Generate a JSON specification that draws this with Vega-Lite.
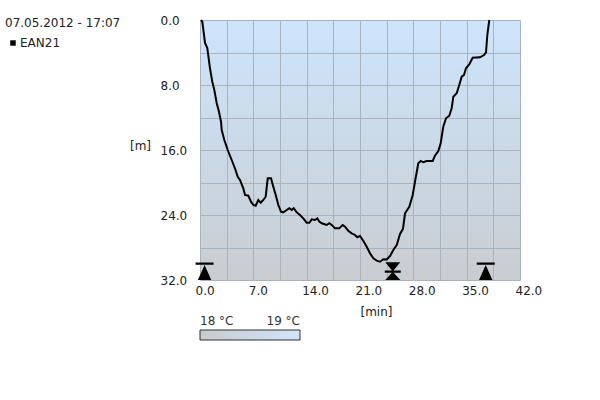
{
  "$schema": "https://vega.github.io/schema/vega-lite/v6.json",
  "autosize": "none",
  "width": 320,
  "height": 260,
  "padding": {"left": 200, "top": 20, "right": 80, "bottom": 120},
  "background": "white",
  "config": {
    "font": "DejaVu Sans",
    "view": {
      "stroke": null,
      "fill": {"gradient": "linear", "x1": 0, "y1": 0, "x2": 0, "y2": 1,
        "stops": [{"offset": 0, "color": "#cde5fc"}, {"offset": 1, "color": "#c9cdd1"}]}
    },
    "axis": {
      "domain": false, "ticks": false, "tickSize": 0, "tickCount": 30,
      "gridColor": "#a9b3bd", "gridWidth": 1, "gridOpacity": 1,
      "labelFontSize": 12, "labelColor": "#222", "titleFontSize": 12,
      "titleFontWeight": "normal", "titleColor": "#222",
      "labelOverlap": false, "labelFlush": false, "labelBound": false
    }
  },
  "datasets": {
    "profile": [
      {"min": 0.13, "depth": 0.0}, {"min": 0.30, "depth": 0.21}, {"min": 0.66, "depth": 2.83},
      {"min": 0.96, "depth": 3.45}, {"min": 1.31, "depth": 5.94}, {"min": 1.61, "depth": 7.59},
      {"min": 1.88, "depth": 8.62}, {"min": 2.19, "depth": 10.22}, {"min": 2.49, "depth": 11.29},
      {"min": 2.76, "depth": 12.52}, {"min": 2.85, "depth": 13.54}, {"min": 3.19, "depth": 14.77},
      {"min": 3.64, "depth": 16.0}, {"min": 4.16, "depth": 17.23}, {"min": 4.59, "depth": 18.25},
      {"min": 4.95, "depth": 19.29}, {"min": 5.25, "depth": 19.69}, {"min": 5.68, "depth": 20.71},
      {"min": 5.91, "depth": 21.54}, {"min": 6.34, "depth": 21.62}, {"min": 6.69, "depth": 22.36},
      {"min": 7.0, "depth": 22.77}, {"min": 7.31, "depth": 22.86}, {"min": 7.65, "depth": 22.15},
      {"min": 7.97, "depth": 22.49}, {"min": 8.31, "depth": 22.15}, {"min": 8.62, "depth": 21.75},
      {"min": 8.89, "depth": 19.48}, {"min": 9.32, "depth": 19.48}, {"min": 9.62, "depth": 20.52},
      {"min": 9.94, "depth": 21.54}, {"min": 10.28, "depth": 22.77}, {"min": 10.63, "depth": 23.59},
      {"min": 10.93, "depth": 23.67}, {"min": 11.38, "depth": 23.38}, {"min": 11.72, "depth": 23.17},
      {"min": 12.04, "depth": 23.38}, {"min": 12.30, "depth": 23.17}, {"min": 12.69, "depth": 23.67},
      {"min": 13.12, "depth": 24.0}, {"min": 13.56, "depth": 24.41}, {"min": 14.0, "depth": 24.95},
      {"min": 14.35, "depth": 24.95}, {"min": 14.66, "depth": 24.53}, {"min": 15.09, "depth": 24.62},
      {"min": 15.40, "depth": 24.41}, {"min": 15.66, "depth": 24.82}, {"min": 15.97, "depth": 25.02},
      {"min": 16.27, "depth": 25.11}, {"min": 16.63, "depth": 25.23}, {"min": 16.97, "depth": 25.02},
      {"min": 17.29, "depth": 25.23}, {"min": 17.72, "depth": 25.64}, {"min": 18.28, "depth": 25.64},
      {"min": 18.73, "depth": 25.23}, {"min": 19.03, "depth": 25.44}, {"min": 19.46, "depth": 25.93},
      {"min": 19.91, "depth": 26.25}, {"min": 20.34, "depth": 26.46}, {"min": 20.65, "depth": 26.74},
      {"min": 21.0, "depth": 26.58}, {"min": 21.43, "depth": 27.16}, {"min": 21.88, "depth": 27.9},
      {"min": 22.31, "depth": 28.71}, {"min": 22.75, "depth": 29.33}, {"min": 23.19, "depth": 29.62},
      {"min": 23.63, "depth": 29.75}, {"min": 24.06, "depth": 29.45}, {"min": 24.5, "depth": 29.48},
      {"min": 24.94, "depth": 29.05}, {"min": 25.37, "depth": 28.31}, {"min": 25.82, "depth": 27.69},
      {"min": 26.25, "depth": 26.34}, {"min": 26.64, "depth": 25.7}, {"min": 26.91, "depth": 23.79},
      {"min": 27.47, "depth": 22.98}, {"min": 27.92, "depth": 21.54}, {"min": 28.22, "depth": 19.9},
      {"min": 28.65, "depth": 17.64}, {"min": 28.97, "depth": 17.35}, {"min": 29.31, "depth": 17.51},
      {"min": 29.76, "depth": 17.35}, {"min": 30.54, "depth": 17.35}, {"min": 30.84, "depth": 16.7},
      {"min": 31.28, "depth": 16.12}, {"min": 31.59, "depth": 15.18}, {"min": 31.93, "depth": 13.13},
      {"min": 32.29, "depth": 12.1}, {"min": 32.72, "depth": 11.78}, {"min": 33.03, "depth": 10.87},
      {"min": 33.25, "depth": 9.44}, {"min": 33.69, "depth": 9.02}, {"min": 34.03, "depth": 8.0},
      {"min": 34.35, "depth": 6.98}, {"min": 34.65, "depth": 6.77}, {"min": 34.91, "depth": 5.94},
      {"min": 35.35, "depth": 5.45}, {"min": 35.79, "depth": 4.64}, {"min": 36.75, "depth": 4.59},
      {"min": 37.28, "depth": 4.31}, {"min": 37.54, "depth": 3.98}, {"min": 37.71, "depth": 1.85},
      {"min": 37.97, "depth": 0.0}
    ],
    "markers": [
      {"min": 0.6, "kind": "up"},
      {"min": 25.3, "kind": "both"},
      {"min": 37.5, "kind": "up"}
    ],
    "temps": [{"temp": 18}, {"temp": 19}]
  },
  "layer": [
    {
      "data": {"name": "profile"},
      "mark": {"type": "line", "strokeWidth": 2, "interpolate": "linear"},
      "encoding": {
        "x": {
          "field": "min", "type": "quantitative",
          "scale": {"domain": [0, 42], "nice": false, "zero": false},
          "axis": {
            "values": [0, 3.5, 7, 10.5, 14, 17.5, 21, 24.5, 28, 31.5, 35, 38.5, 42],
            "tickCount": 30,
            "labelExpr": "datum.value % 7 === 0 ? format(datum.value, '.1f') : ''",
            "labelAlign": "left", "labelOffset": -5, "labelPadding": 5,
            "title": "[min]", "titleX": 176, "titleY": 31, "titleBaseline": "middle", "titleAlign": "center"
          }
        },
        "y": {
          "field": "depth", "type": "quantitative",
          "scale": {"domain": [0, 32], "reverse": true, "nice": false, "zero": false},
          "axis": {
            "values": [0, 4, 8, 12, 16, 20, 24, 28, 32],
            "tickCount": 30,
            "labelExpr": "datum.value % 8 === 0 ? format(datum.value, '.1f') : ''",
            "labelAlign": "left", "labelPadding": 40,
            "title": "[m]", "titleAngle": 0, "titleX": -60, "titleY": 125,
            "titleAlign": "center", "titleBaseline": "middle"
          }
        },
        "color": {
          "datum": "EAN21", "type": "nominal",
          "scale": {"range": ["#000000"]},
          "legend": {
            "orient": "none", "legendX": -195, "legendY": -2,
            "title": "07.05.2012 - 17:07", "titleFontWeight": "normal", "titleFontSize": 12,
            "titleColor": "#222", "titlePadding": 7,
            "symbolType": "square", "symbolSize": 30, "symbolOffset": 2,
            "symbolFillColor": "#000000", "symbolStrokeWidth": 0,
            "labelOffset": 1, "labelFontSize": 12, "labelColor": "#222"
          }
        }
      }
    },
    {
      "data": {"name": "markers"},
      "mark": {"type": "point", "filled": true, "color": "#000000", "opacity": 1, "size": 400, "strokeWidth": 0},
      "encoding": {
        "x": {"field": "min", "type": "quantitative"},
        "y": {"datum": 32, "type": "quantitative"},
        "shape": {
          "field": "kind", "type": "nominal",
          "scale": {
            "domain": ["up", "both"],
            "range": [
              "M-0.9,-1.74H0.9V-1.52H-0.9Z M0,-1.5L0.67,0L-0.67,0Z",
              "M-0.8,-0.94H0.8V-0.72H-0.8Z M-0.75,-1.77L0.75,-1.77L0,-0.85Z M0,-0.83L0.75,0L-0.75,0Z"
            ]
          },
          "legend": null
        }
      }
    },
    {
      "data": {"name": "temps"},
      "mark": {"type": "point", "opacity": 0, "filled": true},
      "encoding": {
        "x": {"datum": 0, "type": "quantitative"},
        "y": {"datum": 0, "type": "quantitative"},
        "fill": {
          "field": "temp", "type": "quantitative",
          "scale": {"domain": [18, 19], "range": ["#c8cbcf", "#cfe5fb"]},
          "legend": {
            "orient": "none", "legendX": 0, "legendY": 310, "direction": "horizontal",
            "title": null, "values": [18, 19],
            "labelExpr": "datum.value + ' °C'",
            "gradientLength": 100, "gradientThickness": 10,
            "gradientStrokeColor": "#333333", "gradientStrokeWidth": 1,
            "labelOffset": -24, "labelFontSize": 12, "labelColor": "#333"
          }
        }
      }
    }
  ]
}
